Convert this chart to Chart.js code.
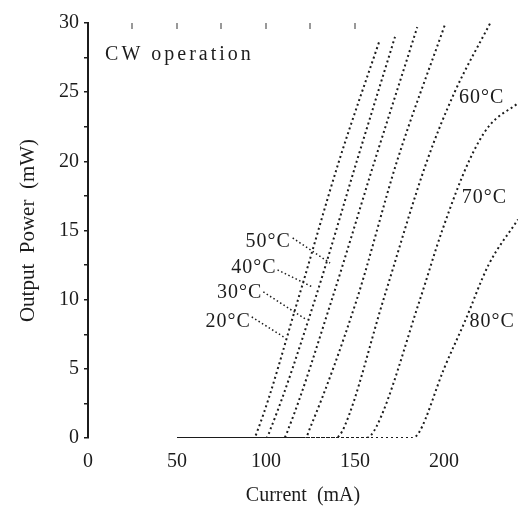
<!DOCTYPE html>
<html>
<head>
<meta charset="utf-8">
<script src="https://cdn.jsdelivr.net/npm/chart.js@4.4.0/dist/chart.umd.min.js"></script>
<style>
  html, body { margin: 0; padding: 0; background: #fff; }
</style>
</head>
<body>
<canvas id="lightChart" width="518" height="513"></canvas>
<script>
// temperaturas das curvas
const temps = ["20°C", "30°C", "40°C", "50°C", "60°C", "70°C", "80°C"];

// corrente (mA) e potência (mW) de cada curva
const current20 = [50, 93, 96, 118, 141, 164];
const power20   = [0, 0, 0.8, 10, 20, 28.8];
const current30 = [50, 100, 103, 127.5, 151, 172.5];
const power30   = [0, 0, 0.8, 10, 20, 29];
const current40 = [50, 110, 113, 137, 161, 185];
const power40   = [0, 0, 0.8, 10, 20, 29.7];
const current50 = [50, 122, 125, 151, 173.6, 200.6];
const power50   = [0, 0, 0.8, 10, 20, 29.9];
const current60 = [50, 139, 144, 166, 190.4, 206, 226];
const power60   = [0, 0, 0.8, 10, 20, 25, 30];
const current70 = [50, 156, 162, 186.5, 199, 214, 225, 241.6];
const power70   = [0, 0, 0.8, 10, 15, 20, 22.5, 24.2];
const current80 = [50, 182, 186, 200, 212, 225, 241.6];
const power80   = [0, 0, 0.4, 5, 8.5, 12.5, 15.8];

const currents = [current20, current30, current40, current50, current60, current70, current80];
const powers   = [power20, power30, power40, power50, power60, power70, power80];

// marcas dos eixos
const xTicks = [0, 50, 100, 150, 200];
const yTicks = [0, 2.5, 5, 7.5, 10, 12.5, 15, 17.5, 20, 22.5, 25, 27.5, 30];
const topTicks = [25, 50, 75, 100, 125, 150];

// posição das etiquetas (em unidades dos dados): [x, y, alinhamento, linha guia]
const labelSpots = [
  [91.5, 8.4, "right", [92, 8.75, 110, 7.3]],
  [98, 10.5, "right", [98.5, 10.56, 123, 8.53]],
  [106, 12.3, "right", [106.5, 12.15, 126.4, 10.9]],
  [114, 14.2, "right", [115, 14.46, 136, 12.65]],
  [208.5, 24.6, "left", null],
  [210, 17.4, "left", null],
  [214.3, 8.4, "left", null]
];

const FONT = "'Liberation Serif', 'DejaVu Serif', serif";
const INK = "#1c1c1c";

const datasets = temps.map((t, i) => ({
  label: t,
  data: currents[i].map((c, k) => ({ x: c, y: powers[i][k] })),
  borderColor: INK,
  borderWidth: 2,
  borderDash: [2, 3],
  borderDashOffset: i % 5, // desfasa os pontos para o troço em zero parecer contínuo
  pointRadius: 0,
  fill: false,
  cubicInterpolationMode: "monotone"
}));

const labelPlugin = {
  id: "tempLabels",
  afterDatasetsDraw(chart) {
    const ctx = chart.ctx;
    const xs = chart.scales.x;
    const ys = chart.scales.y;
    ctx.save();
    ctx.fillStyle = INK;
    ctx.strokeStyle = INK;
    ctx.textBaseline = "middle";

    ctx.font = "20px " + FONT;
    ctx.letterSpacing = "3px";
    ctx.textAlign = "left";
    ctx.fillText("CW operation", xs.getPixelForValue(9.6), ys.getPixelForValue(27.7));
    ctx.letterSpacing = "1px";

    labelSpots.forEach((spot, i) => {
      const [lx, ly, align, lead] = spot;
      ctx.textAlign = align;
      ctx.fillText(temps[i], xs.getPixelForValue(lx), ys.getPixelForValue(ly));
      if (lead) {
        ctx.setLineDash([1.5, 2.5]);
        ctx.lineWidth = 1.5;
        ctx.beginPath();
        ctx.moveTo(xs.getPixelForValue(lead[0]), ys.getPixelForValue(lead[1]));
        ctx.lineTo(xs.getPixelForValue(lead[2]), ys.getPixelForValue(lead[3]));
        ctx.stroke();
      }
    });
    ctx.restore();
  }
};

new Chart(document.getElementById("lightChart"), {
  type: "line",
  data: { datasets: datasets },
  plugins: [labelPlugin],
  options: {
    responsive: false,
    animation: false,
    devicePixelRatio: 1,
    layout: { padding: { top: 23, right: 0, left: 0, bottom: 0 } },
    plugins: {
      legend: { display: false },
      tooltip: { enabled: false }
    },
    scales: {
      x: {
        type: "linear",
        min: 0,
        max: 241.6,
        afterBuildTicks: scale => { scale.ticks = xTicks.map(v => ({ value: v })); },
        afterFit: scale => { scale.height = 75; },
        border: { display: false },
        grid: { display: false },
        ticks: { color: INK, font: { family: FONT, size: 20 }, padding: 4, maxRotation: 0 },
        title: {
          display: true,
          text: "Current  (mA)",
          color: INK,
          font: { family: FONT, size: 20 },
          padding: { top: 6, bottom: 5 }
        }
      },
      xTop: {
        type: "linear",
        position: "top",
        min: 0,
        max: 241.6,
        afterBuildTicks: scale => { scale.ticks = topTicks.map(v => ({ value: v })); },
        afterFit: scale => { scale.height = 0; },
        border: { display: false },
        grid: { drawOnChartArea: false, tickLength: -6, color: "#999", lineWidth: 2 },
        ticks: { display: false }
      },
      y: {
        min: 0,
        max: 30,
        afterBuildTicks: scale => { scale.ticks = yTicks.map(v => ({ value: v })); },
        afterFit: scale => { scale.width = 88; },
        border: { display: true, color: INK, width: 2 },
        grid: { drawOnChartArea: false, tickLength: 4, color: INK, lineWidth: 1.5 },
        ticks: {
          color: INK,
          font: { family: FONT, size: 20 },
          padding: 5,
          callback: v => (v % 5 === 0 ? v : "")
        },
        title: {
          display: true,
          text: "Output  Power  (mW)",
          color: INK,
          font: { family: FONT, size: 21 },
          padding: { top: 16, bottom: 0 }
        }
      }
    }
  }
});
</script>
</body>
</html>
